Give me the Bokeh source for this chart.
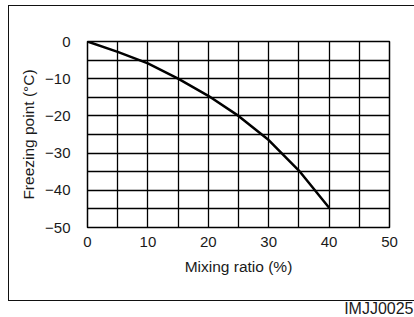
from bokeh.plotting import figure
from bokeh.models import FixedTicker, Title
from bokeh.embed import file_html
from bokeh.resources import INLINE

mixing_ratio = [0, 5, 10, 15, 20, 25, 30, 35, 40]
freezing_point = [0, -2.8, -5.9, -10, -14.6, -20, -26.5, -34.7, -44.7]
x_ticks = [0, 10, 20, 30, 40, 50]
y_ticks = [0, -10, -20, -30, -40, -50]
x_minor = [5, 15, 25, 35, 45]
y_minor = [-5, -15, -25, -35, -45]

FONT = "Liberation Sans"
TXT = "#1a1a1a"

p = figure(width=414, height=317, output_backend="svg", toolbar_location=None,
           x_range=(0, 50), y_range=(-50, 0),
           min_border_left=87, min_border_right=25, min_border_top=41, min_border_bottom=89)
p.border_fill_color = None
p.background_fill_color = "white"
p.outline_line_color = "black"
p.outline_line_width = 1.5

# outer frame of the figure drawn as CSS background lines behind the transparent canvas
p.styles = {
    "background": (
        "linear-gradient(#111,#111) 8px 5px / 410px 1px no-repeat, "
        "linear-gradient(#111,#111) 8px 5px / 1px 296px no-repeat, "
        "linear-gradient(#111,#111) 8px 300px / 410px 1px no-repeat, white"
    )
}

p.line(mixing_ratio, freezing_point, line_color="black", line_width=2.5)

p.xaxis.ticker = FixedTicker(ticks=x_ticks, minor_ticks=x_minor)
p.yaxis.ticker = FixedTicker(ticks=y_ticks, minor_ticks=y_minor)
for g in (p.xgrid, p.ygrid):
    g.grid_line_color = "black"
    g.grid_line_width = 1.3
    g.grid_line_alpha = 1
    g.minor_grid_line_color = "black"
    g.minor_grid_line_width = 1.3

for ax in (p.xaxis, p.yaxis):
    ax.axis_line_color = None
    ax.major_tick_line_color = None
    ax.minor_tick_line_color = None
    ax.major_label_text_font = FONT
    ax.major_label_text_font_size = "15px"
    ax.major_label_text_color = TXT
    ax.axis_label_text_font = FONT
    ax.axis_label_text_font_size = "15.5px"
    ax.axis_label_text_font_style = "normal"
    ax.axis_label_text_color = TXT

p.xaxis.axis_label = "Mixing ratio (%)"
p.yaxis.axis_label = "Freezing point (°C)"
p.xaxis.major_label_standoff = 3
p.yaxis.major_label_standoff = 11
p.xaxis.axis_label_standoff = 8
p.yaxis.axis_label_standoff = 5

spacer = Title(text=" ", text_font_size="1px", standoff=16)
p.add_layout(spacer, "below")
code_title = Title(text="IMJJ0025", align="right", text_font=FONT, text_font_size="16px",
                   text_font_style="normal", text_color=TXT, offset=-24, standoff=2)
p.add_layout(code_title, "below")

open("out.html", "w").write(file_html(p, INLINE))
